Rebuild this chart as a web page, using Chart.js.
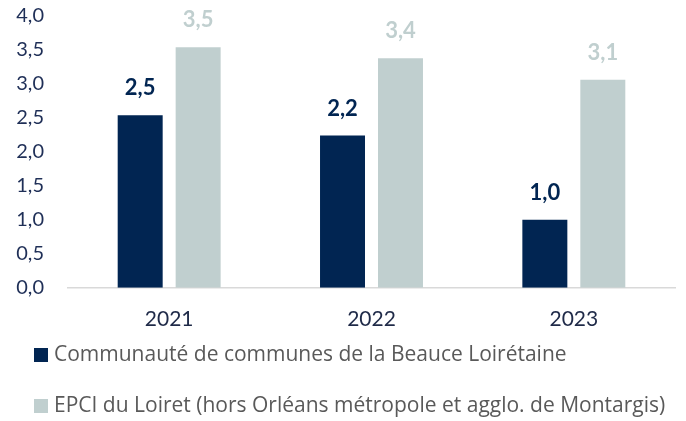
<!DOCTYPE html>
<html>
<head>
<meta charset="utf-8">
<script src="https://cdn.jsdelivr.net/npm/chart.js@4.4.1/dist/chart.umd.min.js"></script>
<style>
  html, body { margin: 0; padding: 0; background: #fff; }
  #wrap { width: 686px; height: 421px; }
</style>
</head>
<body>
<div id="wrap"><canvas id="graph"></canvas></div>
<script>
// données
var annees = ["2021", "2022", "2023"];
var valeursBeauce = [2.54, 2.24, 1.0];
var valeursLoiret = [3.54, 3.38, 3.06];
var nomBeauce = "Communauté de communes de la Beauce Loirétaine";
var nomLoiret = "EPCI du Loiret (hors Orléans métropole et agglo. de Montargis)";
var ticksY = [0, 0.5, 1, 1.5, 2, 2.5, 3, 3.5, 4];

var bleu = "#012552";
var gris = "#c0cfcf";

function virgule(v) {
  return v.toFixed(1).replace(".", ",");
}

// étiquettes au-dessus des barres
var etiquettes = {
  id: "etiquettes",
  afterDatasetsDraw: function (chart) {
    var ctx = chart.ctx;
    ctx.save();
    ctx.font = "bold 22px Lato";
    ctx.textAlign = "center";
    ctx.textBaseline = "middle";
    chart.data.datasets.forEach(function (ds, i) {
      var meta = chart.getDatasetMeta(i);
      meta.data.forEach(function (bar, j) {
        ctx.fillStyle = ds.backgroundColor;
        ctx.fillText(virgule(ds.data[j]), bar.x, bar.y - 27);
      });
    });
    ctx.restore();
  }
};

// légende sur deux lignes, alignée à gauche
var legende = {
  id: "legende",
  afterDraw: function (chart) {
    var ctx = chart.ctx;
    ctx.save();
    ctx.font = "21px 'Open Sans'";
    ctx.textBaseline = "middle";
    chart.data.datasets.forEach(function (ds, i) {
      var y = chart.height - 66 + i * 51;
      ctx.fillStyle = ds.backgroundColor;
      ctx.fillRect(34, y - 7, 14, 14);
      ctx.fillStyle = "#595959";
      ctx.fillText(ds.label, 54, y);
    });
    ctx.restore();
  }
};

var ctx = document.getElementById("graph").getContext("2d");
var chart = new Chart(ctx, {
  type: "bar",
  data: {
    labels: annees,
    datasets: [
      {
        label: nomBeauce,
        backgroundColor: bleu,
        data: valeursBeauce,
        categoryPercentage: 0.573,
        barPercentage: 0.776
      },
      {
        label: nomLoiret,
        backgroundColor: gris,
        data: valeursLoiret,
        categoryPercentage: 0.573,
        barPercentage: 0.776
      }
    ]
  },
  options: {
    responsive: true,
    maintainAspectRatio: false,
    animation: false,
    layout: { padding: { left: 0, right: 11, top: 16, bottom: 70 } },
    plugins: {
      tooltip: { enabled: false },
      legend: { display: false }
    },
    scales: {
      x: {
        grid: { display: false, drawTicks: false },
        border: { display: true, color: "#d9d9d9", width: 1.5 },
        ticks: { color: "#1f2a48", padding: 19, font: { family: "Lato", size: 21 } }
      },
      y: {
        min: 0,
        max: 4,
        grid: { display: false, drawTicks: false },
        border: { display: false },
        afterBuildTicks: function (s) {
          s.ticks = ticksY.map(function (v) { return { value: v }; });
        },
        afterFit: function (s) {
          s.width = 68;
          s.paddingTop = 0;
        },
        ticks: {
          color: "#1f2f57",
          padding: 24,
          font: { family: "Lato", size: 20 },
          callback: function (v) { return virgule(v); }
        }
      }
    }
  },
  plugins: [etiquettes, legende]
});
</script>
</body>
</html>
